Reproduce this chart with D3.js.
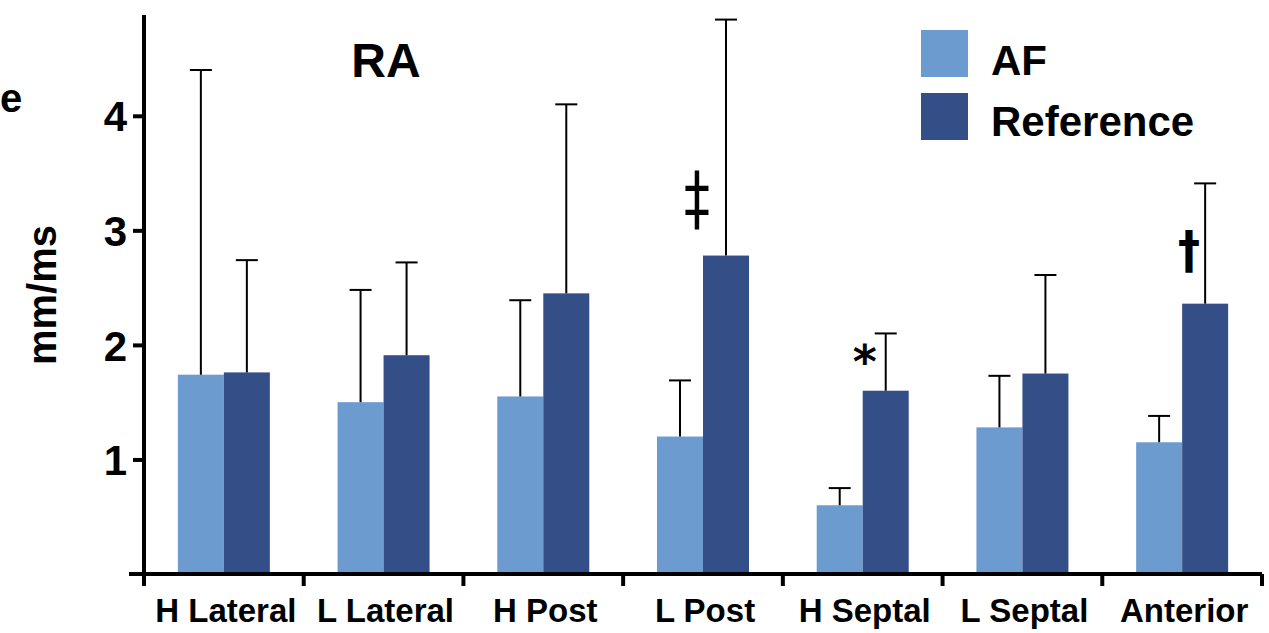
<!DOCTYPE html>
<html><head><meta charset="utf-8">
<script src="https://cdn.jsdelivr.net/npm/d3@7"></script>
<style>
html,body{margin:0;padding:0;background:#fff;}
svg{display:block;font-family:"Liberation Sans",Arial,sans-serif;}
</style></head>
<body><svg id="c" width="1269" height="633"></svg>
<script>
const categories = ["H Lateral","L Lateral","H Post","L Post","H Septal","L Septal","Anterior"];
const seriesNames = ["AF","Reference"];
const afMean = [1.74,1.50,1.55,1.20,0.60,1.28,1.15];
const afErr  = [4.40,2.48,2.39,1.69,0.75,1.73,1.38];
const refMean = [1.76,1.91,2.45,2.78,1.60,1.75,2.36];
const refErr  = [2.74,2.72,4.10,4.84,2.10,2.61,3.41];
const yTicks = [1,2,3,4];
const markCats = ["L Post","H Septal","Anterior"];
const markSymbols = ["‡","*","†"];
const colors = ["#6c9ccf","#344f88"];

const svg = d3.select("#c");
const x0 = 144, x1 = 1262, yBase = 574, yTop = 15;
const x = d3.scaleBand().domain(categories).range([x0,x1]).paddingInner(0).paddingOuter(0);
const y = d3.scaleLinear().domain([0,4.88]).range([yBase,yTop]);
const barW = 46;

const data = categories.map((c,i)=>({c, vals:[{s:0,m:afMean[i],e:afErr[i]},{s:1,m:refMean[i],e:refErr[i]}]}));

const g = svg.append("g");
data.forEach(d=>{
  const cx = x(d.c) + x.bandwidth()/2;
  d.vals.forEach(v=>{
    const bx = cx - barW + v.s*barW;
    g.append("rect").attr("x",bx).attr("y",y(v.m)).attr("width",barW).attr("height",y(0)-y(v.m)).attr("fill",colors[v.s]);
    const ex = bx + barW/2;
    g.append("line").attr("x1",ex).attr("x2",ex).attr("y1",y(v.m)).attr("y2",y(v.e)).attr("stroke","#000").attr("stroke-width",2);
    g.append("line").attr("x1",ex-11).attr("x2",ex+11).attr("y1",y(v.e)).attr("y2",y(v.e)).attr("stroke","#000").attr("stroke-width",2);
  });
});

// y axis
const ya = svg.append("g").attr("transform",`translate(${x0},0)`)
  .call(d3.axisLeft(y).tickValues(yTicks).tickSize(11).tickFormat(d3.format("d")));
ya.select(".domain").remove();
ya.selectAll(".tick line").attr("stroke","#000").attr("stroke-width",4);
ya.selectAll(".tick text").attr("font-size",42).attr("font-weight","bold").attr("fill","#000")
  .attr("font-family","Liberation Sans, Arial, sans-serif").attr("x",-17).attr("dy","0.36em");
svg.append("line").attr("x1",x0).attr("x2",x0).attr("y1",yTop).attr("y2",yBase+12).attr("stroke","#000").attr("stroke-width",4);

// x axis
svg.append("line").attr("x1",129).attr("x2",x1).attr("y1",yBase).attr("y2",yBase).attr("stroke","#000").attr("stroke-width",4);
const bounds = categories.map(c=>x(c)).concat([x1]);
svg.selectAll(".xt").data(bounds.slice(1)).enter().append("line")
  .attr("x1",d=>d).attr("x2",d=>d).attr("y1",yBase).attr("y2",yBase+12).attr("stroke","#000").attr("stroke-width",4);
svg.selectAll(".xl").data(categories).enter().append("text")
  .attr("x",d=>x(d)+x.bandwidth()/2+2).attr("y",622).attr("text-anchor","middle")
  .attr("font-size",33).attr("font-weight","bold").text(d=>d);

// y label
svg.append("text").attr("transform","translate(56,295) rotate(-90)").attr("text-anchor","middle")
  .attr("font-size",40).attr("font-weight","bold").text("mm/ms");
svg.append("text").attr("x",0).attr("y",112).attr("font-size",40).attr("font-weight","bold").text("e");

// title
svg.append("text").attr("x",386).attr("y",77).attr("text-anchor","middle").attr("font-size",48).attr("font-weight","bold").text("RA");

// legend
seriesNames.forEach((n,i)=>{
  svg.append("rect").attr("x",921).attr("y",30+i*63).attr("width",47).attr("height",47).attr("fill",colors[i]);
  svg.append("text").attr("x",991).attr("y",75+i*61).attr("font-size",42).attr("font-weight","bold").text(n);
});

// significance marks (layout offsets relative to category centre)
const markLayout = {"‡":{dx:-6,y:223,size:72,w:"normal",sx:0.72},"*":{dx:2,y:378,size:46,w:"bold",sx:1},"†":{dx:7,y:268,size:52,w:"bold",sx:0.85}};
markCats.forEach((c,i)=>{
  const s = markSymbols[i], L = markLayout[s];
  const mx = x(c)+x.bandwidth()/2+L.dx;
  svg.append("text").attr("transform",`translate(${mx},${L.y}) scale(${L.sx},1)`)
    .attr("text-anchor","middle").attr("font-size",L.size).attr("font-weight",L.w)
    .attr("font-family","DejaVu Sans, sans-serif").text(s);
});
</script></body></html>
